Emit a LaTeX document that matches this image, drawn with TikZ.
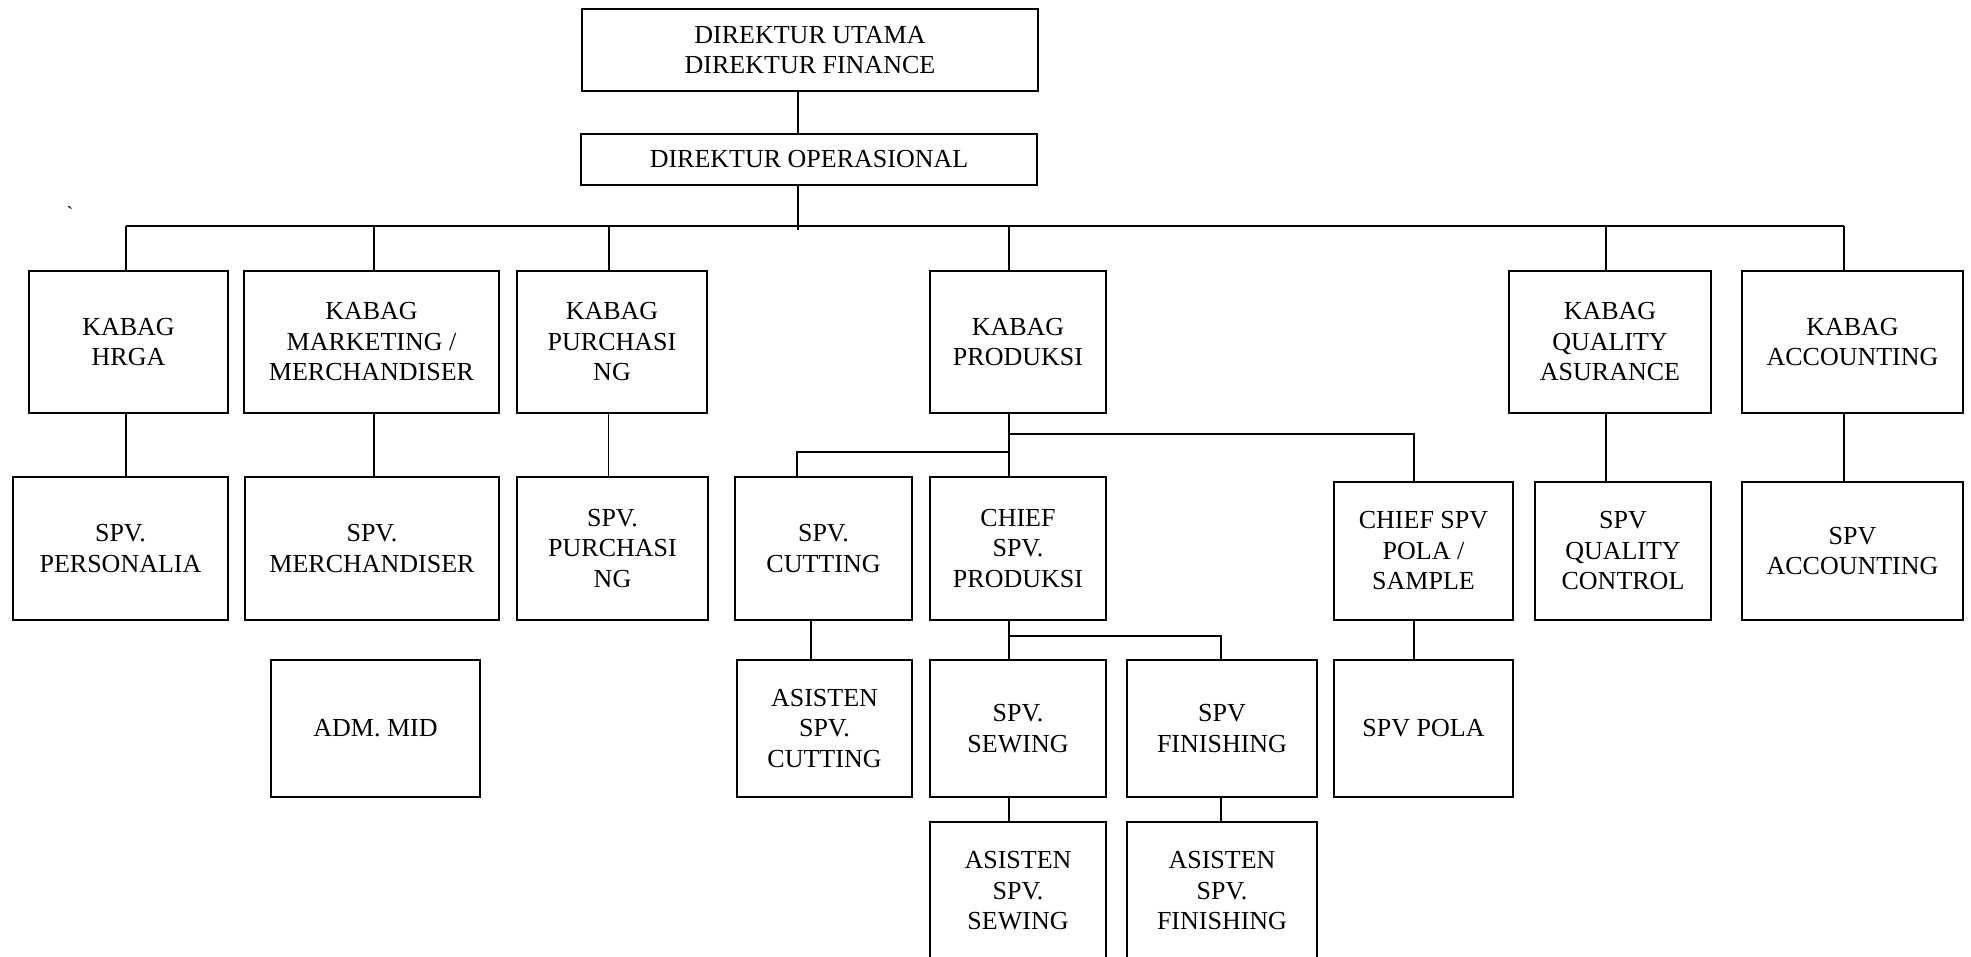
\documentclass[tikz,border=0pt]{standalone}
\usepackage{fontspec}
\newfontfamily\orgfont{Liberation Serif}
\begin{document}
\begin{tikzpicture}[x=1pt,y=-1pt,
  box/.style={draw, line width=1.8pt, align=center, inner sep=0pt,
    font=\orgfont\fontsize{26}{30.5}\selectfont},
  wire/.style={line width=1.8pt}]
\useasboundingbox (0,0) rectangle (1971,957);
\fill[white] (0,0) rectangle (1971,957);

% directors
\node[box, minimum width=456pt, minimum height=82pt] (dirut) at (810,50) {DIREKTUR UTAMA\\DIREKTUR FINANCE};
\node[box, minimum width=456pt, minimum height=51pt] (ops) at (809,159.5) {DIREKTUR OPERASIONAL};

\node[font=\orgfont\fontsize{20}{24}\selectfont, inner sep=0pt] (tick) at (70,214) {\char"60};

% department heads
\node[box, minimum width=199pt, minimum height=142pt] (hrga) at (128.5,342) {KABAG\\HRGA};
\node[box, minimum width=255pt, minimum height=142pt] (mkt) at (371.5,342) {KABAG\\MARKETING /\\MERCHANDISER};
\node[box, minimum width=190pt, minimum height=142pt] (pur) at (612,342) {KABAG\\PURCHASI\\NG};
\node[box, minimum width=176pt, minimum height=142pt] (prod) at (1018,342) {KABAG\\PRODUKSI};
\node[box, minimum width=202pt, minimum height=142pt] (qa) at (1610,342) {KABAG\\QUALITY\\ASURANCE};
\node[box, minimum width=221pt, minimum height=142pt] (acc) at (1852.5,342) {KABAG\\ACCOUNTING};

% supervisors
\node[box, minimum width=215pt, minimum height=143pt] (pers) at (120.5,548.5) {SPV.\\PERSONALIA};
\node[box, minimum width=254pt, minimum height=143pt] (merch) at (372,548.5) {SPV.\\MERCHANDISER};
\node[box, minimum width=191pt, minimum height=143pt] (spvpur) at (612.5,548.5) {SPV.\\PURCHASI\\NG};
\node[box, minimum width=177pt, minimum height=143pt] (cut) at (823.5,548.5) {SPV.\\CUTTING};
\node[box, minimum width=176pt, minimum height=143pt] (chief) at (1018,548.5) {CHIEF\\SPV.\\PRODUKSI};
\node[box, minimum width=179pt, minimum height=138pt] (pola) at (1423.5,551) {CHIEF SPV\\POLA /\\SAMPLE};
\node[box, minimum width=176pt, minimum height=138pt] (qc) at (1623,551) {SPV\\QUALITY\\CONTROL};
\node[box, minimum width=221pt, minimum height=138pt] (spvacc) at (1852.5,551) {SPV\\ACCOUNTING};

% third level
\node[box, minimum width=209pt, minimum height=137pt] (adm) at (375.5,728.5) {ADM. MID};
\node[box, minimum width=175pt, minimum height=137pt] (asscut) at (824.5,728.5) {ASISTEN\\SPV.\\CUTTING};
\node[box, minimum width=176pt, minimum height=137pt] (sew) at (1018,728.5) {SPV.\\SEWING};
\node[box, minimum width=190pt, minimum height=137pt] (fin) at (1222,728.5) {SPV\\FINISHING};
\node[box, minimum width=179pt, minimum height=137pt] (spvpola) at (1423.5,728.5) {SPV POLA};

% assistants
\node[box, minimum width=176pt, minimum height=138pt] (asssew) at (1018,891) {ASISTEN\\SPV.\\SEWING};
\node[box, minimum width=190pt, minimum height=138pt] (assfin) at (1222,891) {ASISTEN\\SPV.\\FINISHING};

% top connectors
\coordinate (bus) at (0,226);
\draw[wire] ([xshift=-12pt]dirut.south) -- ([xshift=-12pt]dirut.south |- ops.north);
\draw[wire] ([xshift=-11pt]ops.south) -- ([xshift=-11pt,yshift=-44pt]ops.south);
\draw[wire] ([xshift=-2.5pt]hrga.north |- bus) -- ([xshift=-8.5pt]acc.north |- bus);
\foreach \n/\d in {hrga/-2.5, mkt/2.5, pur/-3, prod/-9, qa/-4, acc/-8.5}
  \draw[wire] ([xshift=\d pt]\n.north) -- ([xshift=\d pt]\n.north |- bus);

% head to supervisor
\draw[wire] ([xshift=-2.5pt]hrga.south) -- ([xshift=-2.5pt]hrga.south |- pers.north);
\draw[wire] ([xshift=2.5pt]mkt.south) -- ([xshift=2.5pt]mkt.south |- merch.north);
\draw[wire] ([xshift=-3.5pt]pur.south) -- ([xshift=-3.5pt]pur.south |- spvpur.north);
\draw[wire] ([xshift=-4pt]qa.south) -- ([xshift=-4pt]qa.south |- qc.north);
\draw[wire] ([xshift=-8.5pt]acc.south) -- ([xshift=-8.5pt]acc.south |- spvacc.north);

% production branch
\draw[wire] ([xshift=-9pt]prod.south) -- ([xshift=-9pt]prod.south |- chief.north);
\draw[wire] ([xshift=-26.5pt]cut.north) |- ([xshift=-9pt,yshift=-38pt]prod.south);
\draw[wire] ([xshift=-9.5pt]pola.north) |- ([xshift=-9pt,yshift=-20pt]prod.south);
\draw[wire] ([xshift=-12.5pt]cut.south) -- ([xshift=-12.5pt]cut.south |- asscut.north);
\draw[wire] ([xshift=-9pt]chief.south) -- ([xshift=-9pt]chief.south |- sew.north);
\draw[wire] ([xshift=-1pt]fin.north) |- ([xshift=-9pt,yshift=-15pt]chief.south);
\draw[wire] ([xshift=-9.5pt]pola.south) -- ([xshift=-9.5pt]pola.south |- spvpola.north);
\draw[wire] ([xshift=-9pt]sew.south) -- ([xshift=-9pt]sew.south |- asssew.north);
\draw[wire] ([xshift=-1pt]fin.south) -- ([xshift=-1pt]fin.south |- assfin.north);
\end{tikzpicture}
\end{document}
